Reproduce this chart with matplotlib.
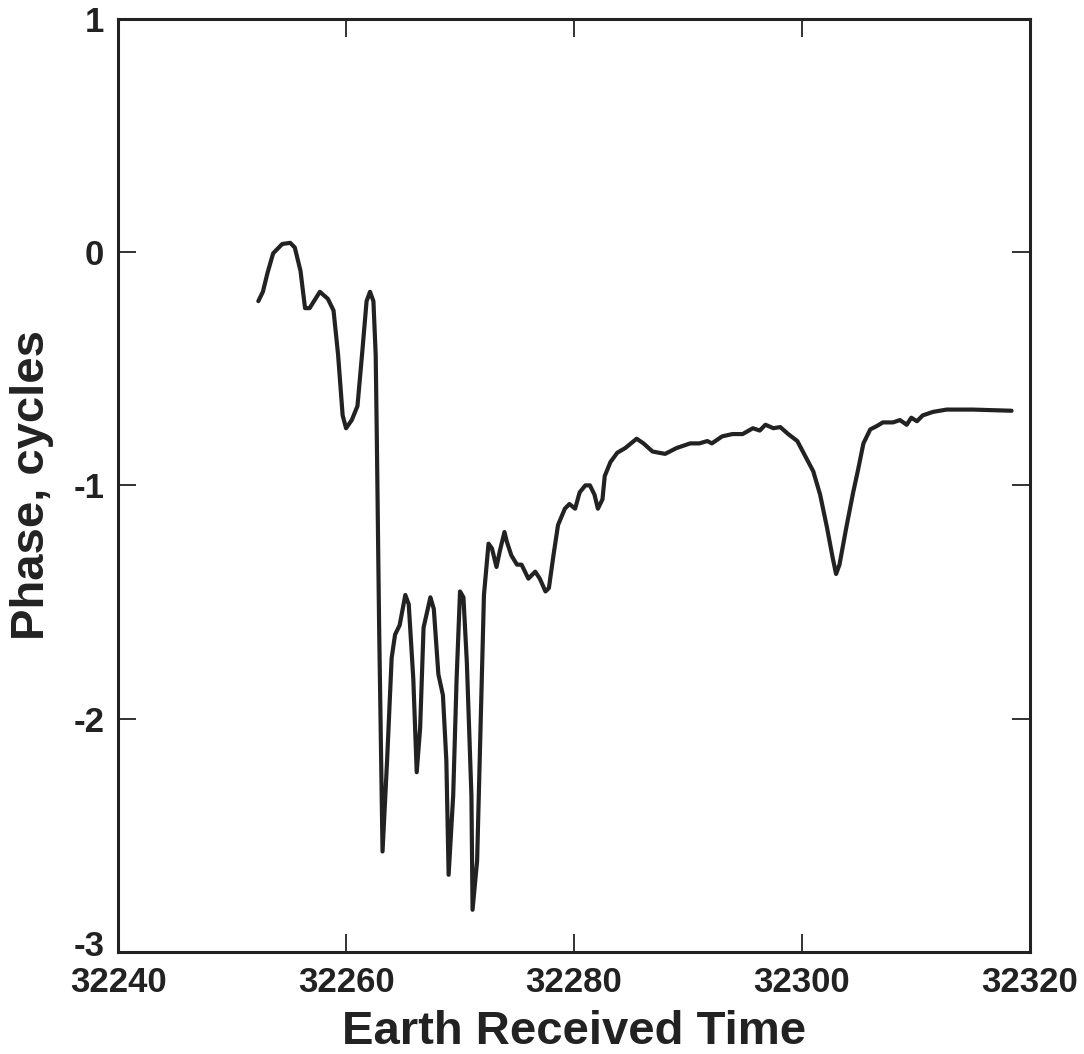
import matplotlib.pyplot as plt
import matplotlib.transforms as mtransforms

plt.rcParams['font.family'] = ['Liberation Sans', 'DejaVu Sans']
plt.rcParams['font.weight'] = 'bold'

# Earth received time vs. phase (cycles)
time = [32252.3, 32252.7, 32253.1, 32253.6, 32254.4, 32255.1, 32255.5, 32256.0,
        32256.4, 32256.8, 32257.7, 32258.4, 32258.9, 32259.3, 32259.7, 32260.0,
        32260.5, 32261.0, 32261.4, 32261.8, 32262.1, 32262.4, 32262.6, 32262.7,
        32262.9, 32263.2, 32263.6, 32264.0, 32264.3, 32264.7, 32265.2, 32265.5,
        32265.9, 32266.2, 32266.5, 32266.8, 32267.4, 32267.7, 32268.1, 32268.5,
        32268.8, 32269.0, 32269.4, 32269.7, 32270.0, 32270.3, 32270.6, 32271.0,
        32271.1, 32271.5, 32271.8, 32272.1, 32272.5, 32272.8, 32273.2, 32273.5,
        32273.9, 32274.1, 32274.5, 32275.0, 32275.4, 32276.0, 32276.6, 32277.0,
        32277.5, 32277.8, 32278.2, 32278.6, 32279.2, 32279.6, 32280.1, 32280.5,
        32281.0, 32281.4, 32281.8, 32282.1, 32282.5, 32282.7, 32283.2, 32283.8,
        32284.5, 32285.5, 32286.1, 32286.9, 32288.0, 32289.0, 32290.2, 32291.0,
        32291.7, 32292.1, 32293.0, 32293.9, 32294.8, 32295.7, 32296.3, 32296.8,
        32297.5, 32298.1, 32298.8, 32299.6, 32300.3, 32301.0, 32301.6, 32302.2,
        32302.7, 32303.0, 32303.3, 32303.9, 32304.5, 32304.9, 32305.4, 32306.0,
        32306.6, 32307.1, 32308.0, 32308.6, 32309.2, 32309.6, 32310.1, 32310.6,
        32311.5, 32312.7, 32315.0, 32318.4]
phase = [-0.21, -0.17, -0.09, -0.005, 0.035, 0.04, 0.02, -0.08,
         -0.24, -0.24, -0.17, -0.20, -0.25, -0.44, -0.70, -0.755,
         -0.72, -0.66, -0.44, -0.21, -0.17, -0.21, -0.44, -0.80,
         -1.60, -2.57, -2.18, -1.74, -1.64, -1.60, -1.47, -1.51,
         -1.83, -2.23, -2.04, -1.61, -1.48, -1.53, -1.81, -1.90,
         -2.18, -2.67, -2.33, -1.83, -1.455, -1.48, -1.76, -2.33,
         -2.82, -2.61, -2.04, -1.47, -1.25, -1.27, -1.35, -1.28,
         -1.20, -1.24, -1.30, -1.34, -1.34, -1.40, -1.37, -1.40,
         -1.455, -1.44, -1.30, -1.17, -1.10, -1.08, -1.10, -1.03,
         -1.00, -1.00, -1.04, -1.10, -1.06, -0.96, -0.90, -0.86,
         -0.84, -0.80, -0.82, -0.855, -0.865, -0.84, -0.82, -0.82,
         -0.81, -0.82, -0.79, -0.78, -0.78, -0.755, -0.765, -0.74,
         -0.755, -0.75, -0.78, -0.81, -0.875, -0.94, -1.04, -1.18,
         -1.31, -1.38, -1.34, -1.18, -1.03, -0.94, -0.82, -0.76,
         -0.745, -0.73, -0.73, -0.72, -0.74, -0.71, -0.725, -0.70,
         -0.685, -0.675, -0.675, -0.68]

x_ticks = [32240, 32260, 32280, 32300, 32320]
y_ticks = [-3, -2, -1, 0, 1]

fig = plt.figure(figsize=(10.84, 10.54), dpi=100)
ax = fig.add_axes([0.109, 0.097, 0.841, 0.885])

ax.plot(time, phase, color='#222222', linewidth=3.0,
        solid_joinstyle='round', solid_capstyle='round')

ax.set_xlim(32240, 32320)
ax.set_ylim(-3, 1)
ax.set_xticks(x_ticks)
ax.set_yticks(y_ticks)
ax.set_xticklabels([str(t) for t in x_ticks])
ax.set_yticklabels([str(t) for t in y_ticks])

ax.tick_params(direction='in', length=13, width=1.3, top=True, right=True,
               labelsize=25, color='#222222', labelcolor='#222222')
ax.tick_params(axis='x', pad=10)
ax.tick_params(axis='y', pad=10)
for s in ax.spines.values():
    s.set_linewidth(2.2)
    s.set_color('#222222')

# the bottom "-3" sits a little above its tick in the original
lbl = ax.get_yticklabels()[0]
lbl.set_transform(lbl.get_transform() +
                  mtransforms.ScaledTranslation(0, 6 / 72, fig.dpi_scale_trans))

ax.set_xlabel('Earth Received Time', fontsize=34, fontweight='bold',
              color='#222222', labelpad=8)
ax.set_ylabel('Phase, cycles', fontsize=34, fontweight='bold',
              color='#222222', labelpad=14)

fig.savefig('out.png', dpi=100, facecolor='white')
